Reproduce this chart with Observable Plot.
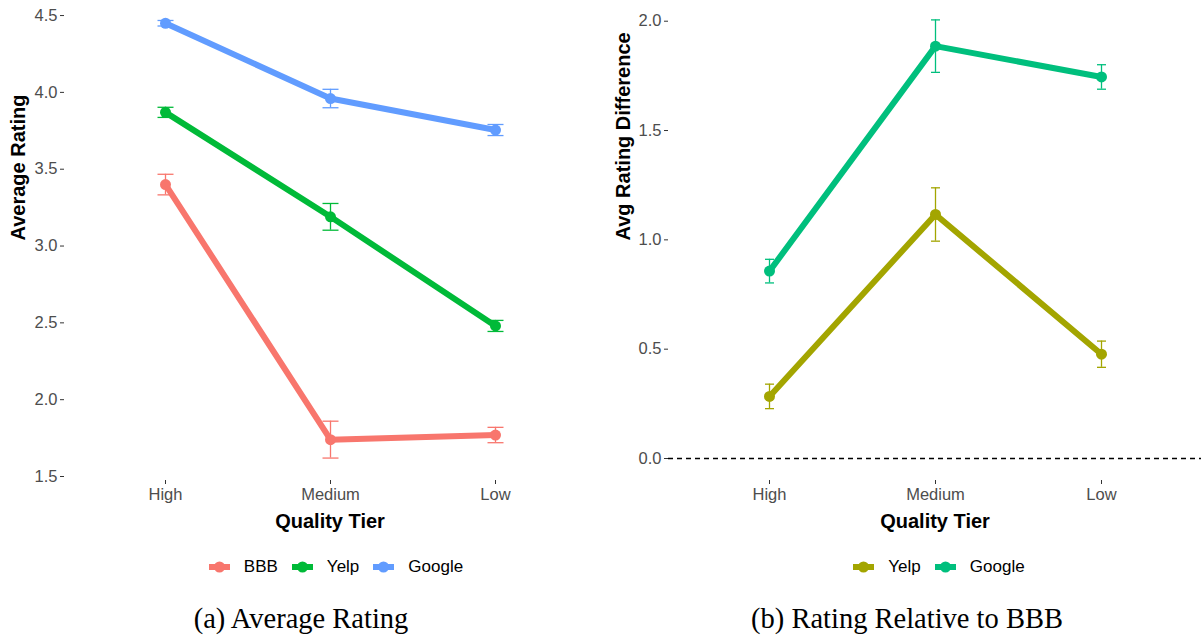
<!DOCTYPE html>
<html>
<head>
<meta charset="utf-8">
<script src="https://cdn.jsdelivr.net/npm/d3@7"></script>
<script src="https://cdn.jsdelivr.net/npm/@observablehq/plot@0.6"></script>
<style>
  html, body { margin: 0; padding: 0; background: #fff; }
  #root { position: relative; width: 1201px; height: 636px; font-family: "Liberation Sans", Arial, sans-serif; }
  .panel { position: absolute; top: 0; }
  .panel svg g[aria-label="y-axis tick label"], .panel svg g[aria-label="x-axis tick label"] { font-size: 16.5px; }
  .legend { position: absolute; top: 555px; height: 24px; display: flex; align-items: center; font-size: 17px; color: #000; }
  .legend .item { display: flex; align-items: center; margin-right: 14px; }
  .legend .item:last-child { margin-right: 0; }
  .legend svg { margin-right: 14px; }
  .caption { position: absolute; top: 602px; font-family: "Liberation Serif", "Times New Roman", serif; font-size: 28.5px; color: #000; white-space: nowrap; transform: translateX(-50%); line-height: 34px; }
</style>
</head>
<body>
<div id="root">
  <div id="left" class="panel" style="left:0px"></div>
  <div id="right" class="panel" style="left:600px"></div>
  <div id="legendA" class="legend"></div>
  <div id="legendB" class="legend"></div>
  <div class="caption" style="left:301px">(a) Average Rating</div>
  <div class="caption" style="left:907px">(b) Rating Relative to BBB</div>
</div>
<script>
// ---- data ----
const tiers = ["High", "Medium", "Low"];

const seriesA = ["BBB", "Yelp", "Google"];
const colorsA = ["#F8766D", "#00BA38", "#619CFF"];
const avgBBB = [3.40, 1.74, 1.77];
const errBBB = [0.067, 0.12, 0.05];
const avgYelp = [3.87, 3.19, 2.48];
const errYelp = [0.033, 0.087, 0.036];
const avgGoogle = [4.45, 3.96, 3.755];
const errGoogle = [0.018, 0.06, 0.036];
const ticksA = [1.5, 2.0, 2.5, 3.0, 3.5, 4.0, 4.5];

const seriesB = ["Yelp", "Google"];
const colorsB = ["#A3A500", "#00BF7D"];
const diffYelp = [0.284, 1.116, 0.477];
const errDiffYelp = [0.056, 0.122, 0.06];
const diffGoogle = [0.857, 1.886, 1.745];
const errDiffGoogle = [0.054, 0.12, 0.056];
const ticksB = [0.0, 0.5, 1.0, 1.5, 2.0];

// ---- build tables ----
function table(names, vals, errs) {
  const rows = [];
  names.forEach((s, i) => {
    tiers.forEach((t, j) => {
      rows.push({series: s, tier: t, value: vals[i][j], lo: vals[i][j] - errs[i][j], hi: vals[i][j] + errs[i][j]});
    });
  });
  return rows;
}
const dataA = table(seriesA, [avgBBB, avgYelp, avgGoogle], [errBBB, errYelp, errGoogle]);
const dataB = table(seriesB, [diffYelp, diffGoogle], [errDiffYelp, errDiffGoogle]);

function capSymbol(half) {
  return { draw(ctx) { ctx.moveTo(-half, 0); ctx.lineTo(half, 0); } };
}

const font = '"Liberation Sans", Arial, sans-serif';

function panel({data, names, colors, domain, ticks, ylabel, labelX, width, marginLeft, marginRight, capHalf, extra}) {
  const cap = capSymbol(capHalf);
  return Plot.plot({
    width, height: 532,
    marginTop: 0, marginBottom: 52, marginLeft, marginRight,
    style: {fontFamily: font, fontSize: "16.5px", overflow: "visible", background: "transparent"},
    x: {type: "point", domain: tiers, padding: 0.6},
    y: {domain},
    color: {domain: names, range: colors},
    marks: [
      ...(extra || []),
      Plot.axisY({ticks, tickFormat: d3.format(".1f"), tickSize: 4, tickPadding: 3, fill: "#4D4D4D", stroke: "#333333", label: null, fontSize: 16.5}),
      Plot.axisX({tickSize: 4, tickPadding: 4, fill: "#4D4D4D", stroke: "#333333", label: null, fontSize: 16.5}),
      Plot.ruleX(data, {x: "tier", y1: "lo", y2: "hi", stroke: "series", strokeWidth: 1.3}),
      Plot.dot(data, {x: "tier", y: "lo", symbol: cap, stroke: "series", fill: "none", strokeWidth: 1.3, r: 3}),
      Plot.dot(data, {x: "tier", y: "hi", symbol: cap, stroke: "series", fill: "none", strokeWidth: 1.3, r: 3}),
      Plot.line(data, {x: "tier", y: "value", z: "series", stroke: "series", strokeWidth: 6, strokeLinejoin: "round"}),
      Plot.dot(data, {x: "tier", y: "value", fill: "series", r: 5.5}),
      Plot.text(["Quality Tier"], {text: d => d, frameAnchor: "bottom", dy: 47, fontWeight: "bold", fontSize: 20, fill: "#000"}),
      Plot.text([ylabel], {text: d => d, frameAnchor: "left", dx: -(marginLeft - labelX), rotate: -90, fontWeight: "bold", fontSize: 20, fill: "#000"})
    ]
  });
}

document.getElementById("left").appendChild(panel({
  data: dataA, names: seriesA, colors: colorsA,
  domain: [1.474, 4.598], ticks: ticksA, ylabel: "Average Rating", labelX: 18,
  width: 600, marginLeft: 64, marginRight: 5, capHalf: 8
}));

document.getElementById("right").appendChild(panel({
  data: dataB, names: seriesB, colors: colorsB,
  domain: [-0.1006, 2.0947], ticks: ticksB, ylabel: "Avg Rating Difference", labelX: 23,
  width: 601, marginLeft: 68, marginRight: 0, capHalf: 4.5,
  extra: [Plot.ruleY([0], {stroke: "#000", strokeWidth: 1.3, strokeDasharray: "5,4"})]
}));

// ---- legends ----
function legend(el, names, colors, center) {
  names.forEach((n, i) => {
    const item = document.createElement("div");
    item.className = "item";
    item.innerHTML = `<svg width="21" height="14"><line x1="0" y1="7" x2="21" y2="7" stroke="${colors[i]}" stroke-width="6"/><circle cx="10.5" cy="7" r="5.5" fill="${colors[i]}"/></svg><span>${n}</span>`;
    el.appendChild(item);
  });
  const w = el.getBoundingClientRect().width;
  el.style.left = (center - w / 2) + "px";
}
legend(document.getElementById("legendA"), seriesA, colorsA, 336);
legend(document.getElementById("legendB"), seriesB, colorsB, 939);
</script>
</body>
</html>
